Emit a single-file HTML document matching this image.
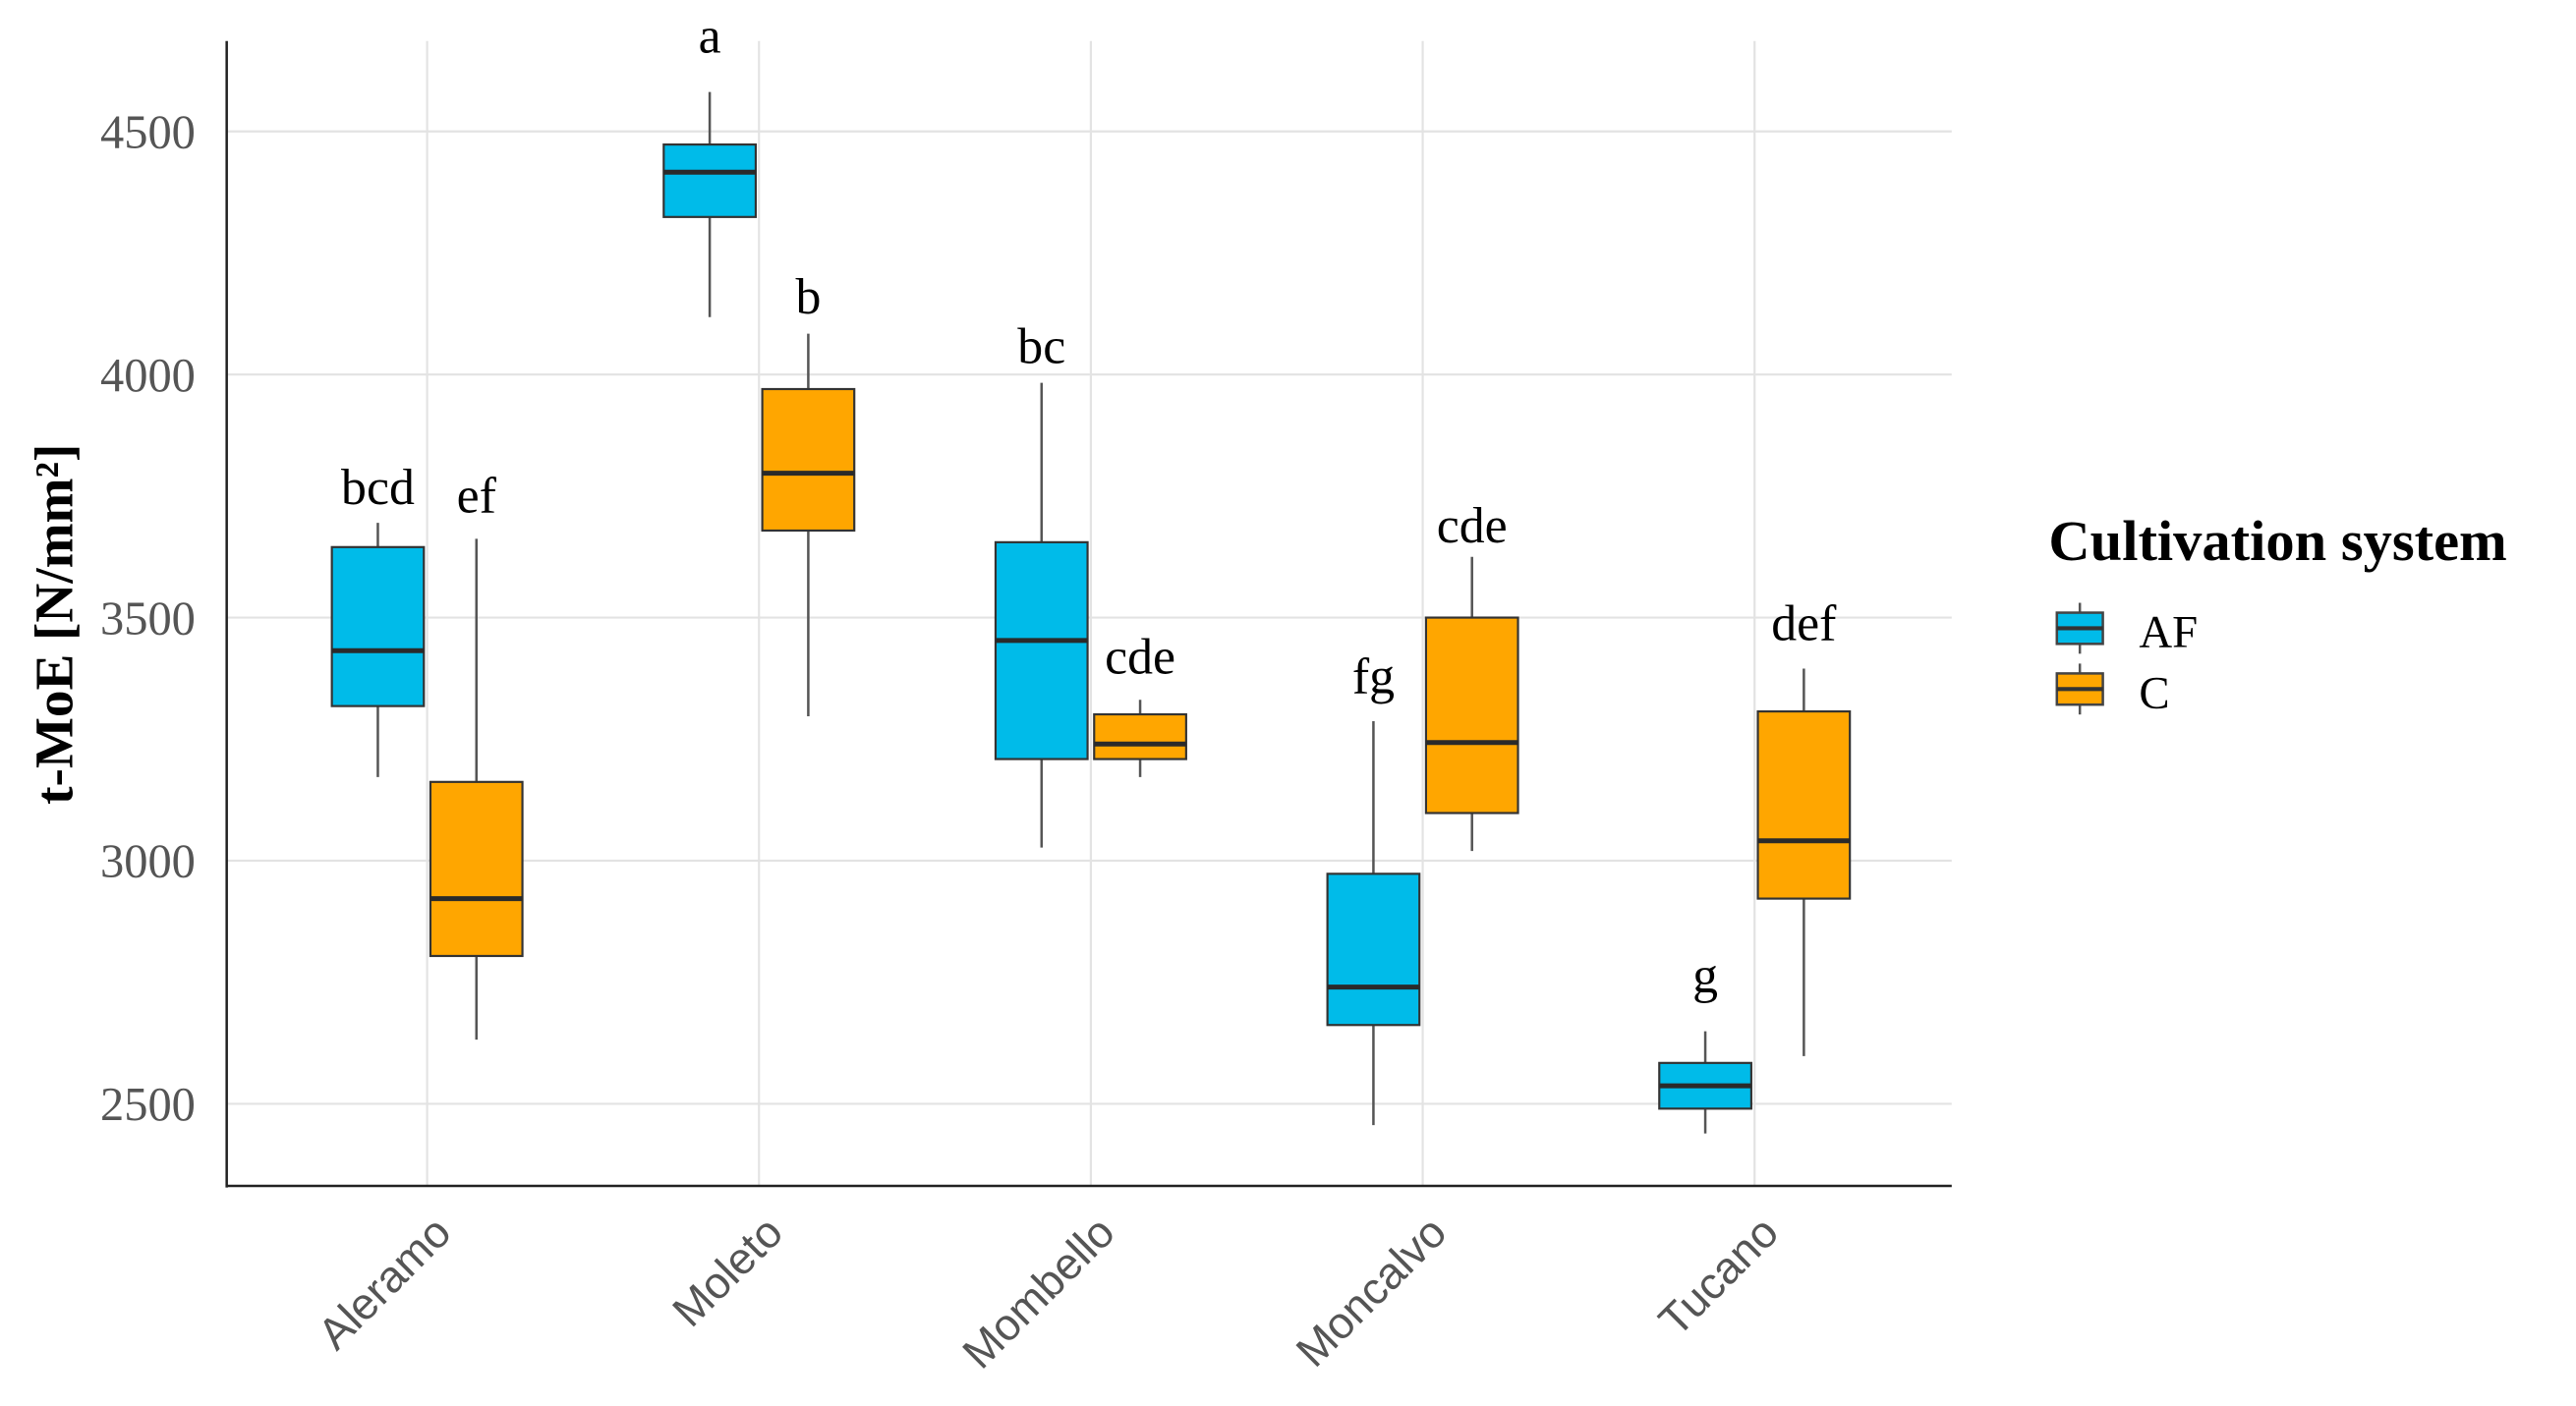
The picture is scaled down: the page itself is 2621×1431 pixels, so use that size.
<!DOCTYPE html>
<html><head><meta charset="utf-8"><style>
html,body{margin:0;padding:0;background:#fff;}
svg{display:block;}
</style></head><body>
<svg id="chart" width="2621" height="1431" viewBox="0 0 1568 856" preserveAspectRatio="none" xmlns="http://www.w3.org/2000/svg">
<g id="grid"></g>
<g id="boxes"></g>
<g id="axes"></g>
<text transform="translate(44,380) rotate(-90)" text-anchor="middle" font-family="Liberation Serif, serif" font-weight="bold" font-size="33" fill="#000">t-MoE [N/mm²]</text>
<g>
<text x="1247" y="341" font-family="Liberation Serif, serif" font-weight="bold" font-size="35" fill="#000">Cultivation system</text>
<g>
<line x1="1266" y1="367" x2="1266" y2="398" stroke="#555" stroke-width="1.5"/>
<rect x="1252" y="373" width="28" height="19" fill="#00BBE9" stroke="#444" stroke-width="1.5"/>
<line x1="1252" y1="382.5" x2="1280" y2="382.5" stroke="#333" stroke-width="2.5"/>
<text x="1302" y="394" font-family="Liberation Serif, serif" font-size="28" fill="#000">AF</text>
</g>
<g>
<line x1="1266" y1="404" x2="1266" y2="435" stroke="#555" stroke-width="1.5"/>
<rect x="1252" y="410" width="28" height="19" fill="#FFA600" stroke="#444" stroke-width="1.5"/>
<line x1="1252" y1="419.5" x2="1280" y2="419.5" stroke="#333" stroke-width="2.5"/>
<text x="1302" y="431" font-family="Liberation Serif, serif" font-size="28" fill="#000">C</text>
</g>
</g>
</svg>
<script>
const categories = ["Aleramo","Moleto","Mombello","Moncalvo","Tucano"];
const yTicks = [2500,3000,3500,4000,4500];
// [lowerWhisker, Q1, median, Q3, upperWhisker]
const afStats = [
  [3172,3318,3432,3645,3695],
  [4118,4324,4416,4473,4581],
  [3027,3209,3453,3655,3983],
  [2456,2662,2740,2973,3287],
  [2439,2490,2537,2584,2649]
];
const cStats = [
  [2632,2804,2922,3162,3662],
  [3297,3679,3797,3970,4084],
  [3172,3209,3240,3301,3331],
  [3020,3098,3243,3500,3625],
  [2598,2922,3041,3307,3395]
];
const afLetters = ["bcd","a","bc","fg","g"];
const cLetters = ["ef","b","cde","cde","def"];
const afLetterY = [3767,4696,4057,3378,2763];
const cLetterY = [3750,4159,3419,3689,3487];

const NS="http://www.w3.org/2000/svg";
const L=138,R=1188,T=25,B=722;
function yScale(v){return 80+(4500-v)/500*148;}
function xScale(i){return 260+i*202;}
const DODGE=30, BW=56;
function mk(tag,attrs,parent){const e=document.createElementNS(NS,tag);for(const k in attrs)e.setAttribute(k,attrs[k]);parent.appendChild(e);return e;}
const grid=document.getElementById('grid'), boxes=document.getElementById('boxes'), axes=document.getElementById('axes');
yTicks.forEach(t=>{
  const y=yScale(t);
  const g=mk('line',{x1:L,x2:R,y1:y,y2:y,stroke:'#e3e3e3','stroke-width':1.3},grid);
  
  
  const tx=mk('text',{x:119,y:y+10,'text-anchor':'end','font-family':'Liberation Serif, serif','font-size':29,fill:'#555'},axes);
  tx.textContent=t;
  
  
});
categories.forEach((c,i)=>{
  const x=xScale(i);
  const g=mk('line',{x1:x,x2:x,y1:T,y2:B,stroke:'#e3e3e3','stroke-width':1.3},grid);
  
  
  const tx=mk('text',{x:x+16,y:752,'text-anchor':'end','font-family':'Liberation Sans, sans-serif','font-size':27,fill:'#555',transform:`rotate(-45 ${x+16} 752)`},axes);
  tx.textContent=c;
  
  
});
mk('line',{x1:L,x2:L,y1:T,y2:B+1,stroke:'#222','stroke-width':1.5},axes);
mk('line',{x1:L,x2:R,y1:B,y2:B,stroke:'#222','stroke-width':1.5},axes);
function drawBox(s,cx,fill,name){
  const g=mk('g',{},boxes);
  
  
  mk('line',{x1:cx,x2:cx,y1:yScale(s[4]),y2:yScale(s[0]),stroke:'#555','stroke-width':1.5},g);
  mk('rect',{x:cx-BW/2,y:yScale(s[3]),width:BW,height:yScale(s[1])-yScale(s[3]),fill:fill,stroke:'#333','stroke-width':1.3},g);
  mk('line',{x1:cx-BW/2,x2:cx+BW/2,y1:yScale(s[2]),y2:yScale(s[2]),stroke:'#2a2a2a','stroke-width':3},g);
}
function drawLetter(txt,cx,v,name){
  const t=mk('text',{x:cx,y:yScale(v)+10,'text-anchor':'middle','font-family':'Liberation Serif, serif','font-size':31,fill:'#000'},boxes);
  t.textContent=txt;
  
  
}
categories.forEach((c,i)=>{
  const x=xScale(i);
  drawBox(afStats[i],x-DODGE,'#00BBE9','box-af-'+c.toLowerCase());
  drawBox(cStats[i],x+DODGE,'#FFA600','box-c-'+c.toLowerCase());
  drawLetter(afLetters[i],x-DODGE,afLetterY[i],'letter-af-'+c.toLowerCase());
  drawLetter(cLetters[i],x+DODGE,cLetterY[i],'letter-c-'+c.toLowerCase());
});
</script>
</body></html>
